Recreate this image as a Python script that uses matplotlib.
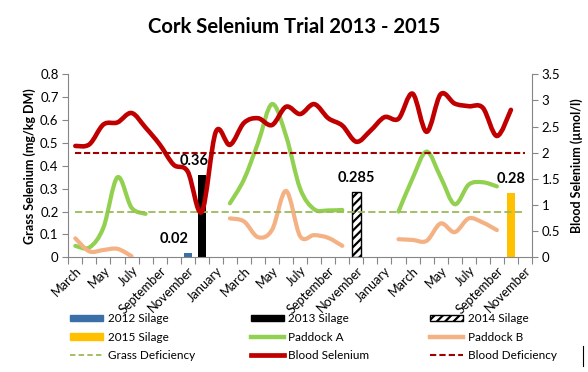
import numpy as np
import matplotlib
matplotlib.use('Agg')
import matplotlib.pyplot as plt
from matplotlib.path import Path
from matplotlib.patches import PathPatch, Patch
from matplotlib.lines import Line2D

plt.rcParams['font.family'] = ['Lato', 'DejaVu Sans']
plt.rcParams['hatch.linewidth'] = 1.6

# ---------------- data ----------------
categories = [
    'March 2013', 'April 2013', 'May 2013', 'June 2013', 'July 2013', 'August 2013',
    'September 2013', 'October 2013', 'November 2013', 'December 2013',
    'January 2014', 'February 2014', 'March 2014', 'April 2014', 'May 2014', 'June 2014',
    'July 2014', 'August 2014', 'September 2014', 'October 2014', 'November 2014',
    'December 2014', 'January 2015', 'February 2015', 'March 2015', 'April 2015',
    'May 2015', 'June 2015', 'July 2015', 'August 2015', 'September 2015',
    'October 2015', 'November 2015',
]

silage_names = ['2012 Silage', '2013 Silage', '2014 Silage', '2015 Silage']
silage_months = ['November 2013', 'December 2013', 'November 2014', 'October 2015']
silage_values = [0.02, 0.36, 0.285, 0.28]

paddock_a = [0.05, 0.043, 0.13, 0.35, 0.217, 0.19,
             None, None, None, None, None,
             0.236, 0.34, 0.50, 0.67, 0.53, 0.30, 0.21, 0.205, 0.207,
             None, None, None,
             0.20, 0.345, 0.462, 0.35, 0.232, 0.318, 0.328, 0.31,
             None, None]

paddock_b = [0.083, 0.026, 0.032, 0.037, 0.005,
             None, None, None, None, None, None,
             0.17, 0.157, 0.088, 0.12, 0.29, 0.092, 0.097, 0.085, 0.05,
             None, None, None,
             0.079, 0.076, 0.072, 0.148, 0.11, 0.17, 0.152, 0.119,
             None, None]

blood_selenium = [2.13, 2.16, 2.54, 2.58, 2.76, 2.48, 2.16, 1.77, 1.64, 0.87,
                  2.40, 2.15, 2.57, 2.66, 2.53, 2.88, 2.74, 2.93, 2.66, 2.52,
                  2.21, 2.42, 2.68, 2.65, 3.13, 2.40, 3.12, 2.94, 2.89, 2.86,
                  2.32, 2.82, None]

grass_deficiency = 0.2
blood_deficiency = 2.0

# ---------------- styles ----------------
silage_colors = ['#3A6FA8', '#000000', '#FFFFFF', '#FFC000']
silage_hatch = [None, None, '////', None]
silage_label_dx = [-14, -8, 0, 0]   # pixel offsets of data labels
col_green = '#92D050'
col_orange = '#F4B183'
col_red = '#C00000'
col_red_dash = '#A00000'
col_green_dash = '#9BBB59'
axis_gray = '#868686'


def smooth_segments(ys):
    """Build Bezier paths (Excel-like smoothing) for each run of non-None values."""
    paths = []
    run = []
    for i, v in enumerate(list(ys) + [None]):
        if v is None:
            if len(run) >= 2:
                pts = np.array(run, dtype=float)
                verts = [pts[0]]
                codes = [Path.MOVETO]
                n = len(pts)
                for k in range(n - 1):
                    p0 = pts[k - 1] if k > 0 else pts[k]
                    p1 = pts[k]
                    p2 = pts[k + 1]
                    p3 = pts[k + 2] if k + 2 < n else pts[k + 1]
                    c1 = p1 + (p2 - p0) / 6.0
                    c2 = p2 - (p3 - p1) / 6.0
                    verts += [c1, c2, p2]
                    codes += [Path.CURVE4] * 3
                paths.append(Path(verts, codes))
            run = []
        else:
            run.append((i, v))
    return paths


def draw_smooth(ax, ys, color, lw, z):
    for p in smooth_segments(ys):
        ax.add_patch(PathPatch(p, facecolor='none', edgecolor=color, lw=lw,
                               capstyle='round', joinstyle='round', zorder=z))


# ---------------- figure ----------------
fig = plt.figure(figsize=(5.88, 3.72), dpi=100)
ax = fig.add_axes([68.3 / 588, 1 - 257.3 / 372, (532 - 68.3) / 588, (257.3 - 74.3) / 372])
ax2 = ax.twinx()

n = len(categories)
x = np.arange(n)

# bars
for name, month, val, colr, h, dx in zip(silage_names, silage_months, silage_values,
                                          silage_colors, silage_hatch, silage_label_dx):
    xi = categories.index(month)
    ax.bar([xi], [val], width=0.6, color=colr, hatch=h,
           edgecolor='black' if h else colr, linewidth=1.0 if h else 0, zorder=2)
    ax.annotate(f'{val:g}', xy=(xi, val), xytext=(dx, 14), textcoords='offset pixels',
                ha='center', va='center', fontsize=10.5, fontweight='bold', color='black',
                zorder=6)

# grass lines
draw_smooth(ax, paddock_a, col_green, 3.0, 3)
draw_smooth(ax, paddock_b, col_orange, 3.0, 3)
ax.plot(x, np.full(n, grass_deficiency), color=col_green_dash, lw=1.3,
        dashes=(4.0, 1.8), zorder=3)

# blood lines
draw_smooth(ax2, blood_selenium, col_red, 3.3, 4)
ax2.plot(x, np.full(n, blood_deficiency), color=col_red_dash, lw=1.5,
         dashes=(3.0, 1.3), zorder=4)

# axes formatting
ax.set_xlim(-0.5, n - 0.5)
ax.set_ylim(0, 0.8)
ax2.set_ylim(0, 3.5)
ax.set_yticks(np.arange(0, 0.81, 0.1))
ax.set_yticklabels([f'{v:g}' for v in np.round(np.arange(0, 0.81, 0.1), 1)])
ax2.set_yticks(np.arange(0, 3.51, 0.5))
ax2.set_yticklabels([f'{v:g}' for v in np.arange(0, 3.51, 0.5)])

tick_idx = list(range(0, n, 2))
ax.set_xticks(tick_idx)
ax.set_xticklabels([categories[i].split()[0] for i in tick_idx], rotation=45,
                   ha='right', va='top', rotation_mode='anchor')
ax.set_xticks(np.arange(-0.5, n, 1.0), minor=True)
ax.tick_params(axis='x', which='major', length=0, pad=5, labelsize=9.2)
ax.tick_params(axis='x', which='minor', length=5, color=axis_gray, width=0.8)
ax.tick_params(axis='y', length=4, color=axis_gray, width=0.8, labelsize=9.5, pad=3)
ax2.tick_params(axis='y', length=4, color=axis_gray, width=0.8, labelsize=9.5, pad=3)

for s in ['top', 'right']:
    ax.spines[s].set_visible(False)
for s in ['top', 'left', 'bottom']:
    ax2.spines[s].set_visible(False)
ax.spines['left'].set_color(axis_gray)
ax.spines['bottom'].set_color(axis_gray)
ax2.spines['right'].set_color(axis_gray)
for sp in list(ax.spines.values()) + list(ax2.spines.values()):
    sp.set_linewidth(0.8)

ax.set_ylabel('Grass Selenium (mg/kg DM)', fontsize=9, fontweight='bold', labelpad=3)
ax2.set_ylabel('Blood Selenium (µmol/l)', fontsize=9, fontweight='bold', labelpad=7)

fig.text(0.5, 1 - 27 / 372, 'Cork Selenium Trial 2013 - 2015', ha='center', va='center',
         fontsize=14.6, fontweight='bold')

# legend (three columns placed like the original)
h_2012 = Patch(facecolor=silage_colors[0], edgecolor=silage_colors[0])
h_2013 = Patch(facecolor=silage_colors[1], edgecolor=silage_colors[1])
h_2014 = Patch(facecolor='white', edgecolor='black', hatch='////')
h_2015 = Patch(facecolor=silage_colors[3], edgecolor=silage_colors[3])
h_pa = Line2D([], [], color=col_green, lw=3.2)
h_pb = Line2D([], [], color=col_orange, lw=3.2)
h_gd = Line2D([], [], color=col_green_dash, lw=1.3, dashes=(3.0, 1.8))
h_bs = Line2D([], [], color=col_red, lw=3.4)
h_bd = Line2D([], [], color=col_red_dash, lw=1.5, dashes=(3.0, 1.5))

columns = [
    ([h_2012, h_2015, h_gd], ['2012 Silage', '2015 Silage', 'Grass Deficiency'], 70),
    ([h_2013, h_pa, h_bs], ['2013 Silage', 'Paddock A', 'Blood Selenium'], 250.5),
    ([h_2014, h_pb, h_bd], ['2014 Silage', 'Paddock B', 'Blood Deficiency'], 430),
]
for hs, ls, xpx in columns:
    fig.legend(hs, ls, loc='upper left', bbox_to_anchor=(xpx / 588, 1 - 313.5 / 372),
               frameon=False, fontsize=8.5, handlelength=2.8, handleheight=0.45,
               handletextpad=0.4, labelspacing=0.6, borderpad=0, borderaxespad=0)

fig.add_artist(Line2D([583 / 588, 583 / 588], [1 - 346 / 372, 1 - 366 / 372],
                      color='black', lw=0.8, transform=fig.transFigure))

fig.savefig('out.png', dpi=100)
